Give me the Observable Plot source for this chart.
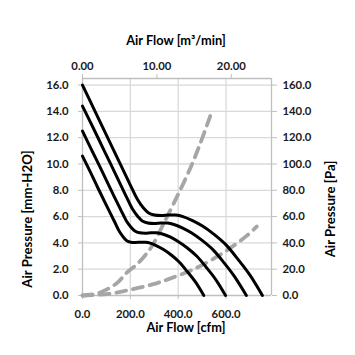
<!DOCTYPE html>
<html><head><meta charset="utf-8">
<script src="https://cdn.jsdelivr.net/npm/d3@7"></script>
<script src="https://cdn.jsdelivr.net/npm/@observablehq/plot@0.6"></script>
<style>body{margin:0;background:#fff}</style>
</head><body><div id="chart"></div>
<script>
// Fan curves (x: air flow cfm, y: pressure mm-H2O)
const c1x = [0,50,100,150,200,230,255,275,300,330,360,390,420,460,500,550,600,650,700,752];
const c1y = [16.0,14.1,12.2,10.3,8.4,7.3,6.65,6.3,6.12,6.08,6.12,6.12,6.0,5.7,5.3,4.65,3.85,2.75,1.55,0];
const c2x = [0,46,91,137,182,209,232,250,273,300,328,355,382,419,455,500,546,592,637,685];
const c2y = [14.4,12.7,11.0,9.27,7.56,6.57,5.99,5.67,5.51,5.47,5.51,5.51,5.4,5.13,4.77,4.19,3.47,2.48,1.4,0];
const c3x = [0,40,80,119,159,183,203,219,239,262,286,310,334,366,398,437,477,517,557,598];
const c3y = [12.5,11.0,9.52,8.03,6.55,5.69,5.19,4.91,4.77,4.74,4.77,4.77,4.68,4.45,4.13,3.63,3.0,2.15,1.21,0];
const c4x = [0,34,67,101,135,155,172,185,202,222,243,263,283,310,337,371,404,438,472,507];
const c4y = [10.6,9.34,8.08,6.82,5.57,4.84,4.41,4.17,4.05,4.03,4.05,4.05,3.98,3.78,3.51,3.08,2.55,1.82,1.03,0];
// System impedance curves (dashed)
const steepX = [0,60,104,150,185,226,257,292,340,396,451,493,535];
const steepY = [0,0.15,0.48,1.04,1.74,2.35,2.95,3.8,5.5,7.55,9.7,11.6,13.7];
const shallowX = [0,108,198,296,368,465,562,632,687,729];
const shallowY = [0,0.12,0.43,0.86,1.3,2.0,2.95,3.79,4.55,5.25];

const leftTicks = [0,2,4,6,8,10,12,14,16];
const bottomTicks = [0,200,400,600];
const topTicks = [0,10,20];
const xMax = 790, yMax = 16.5, topMax = 25.4;

const fanSeries = [[c1x,c1y,"A"],[c2x,c2y,"B"],[c3x,c3y,"C"],[c4x,c4y,"D"]];
const fanRows = fanSeries.flatMap(([xs,ys,k]) => xs.map((x,i) => ({x, y: ys[i], k})));
const sysRows = [[steepX,steepY,"S1"],[shallowX,shallowY,"S2"]].flatMap(([xs,ys,k]) => xs.map((x,i)=>({x,y:ys[i],k})));

const grid = "#d9d9d9", axc = "#bfbfbf", txt = "#1a1a1a";

const chart = Plot.plot({
  width: 355, height: 355,
  marginLeft: 82, marginRight: 84, marginTop: 78, marginBottom: 60,
  x: {domain: [0, xMax]},
  y: {domain: [0, yMax]},
  style: {fontFamily: "Lato", fontWeight: "bold", fontSize: "11.3px", color: txt, background: "#fff"},
  marks: [
    Plot.gridY(leftTicks.slice(1), {stroke: grid, strokeOpacity: 1, strokeWidth: 1.3}),
    Plot.gridX([200,400,600], {stroke: grid, strokeOpacity: 1, strokeWidth: 1.3}),
    Plot.ruleY([yMax], {stroke: axc, strokeWidth: 1.3}),
    Plot.ruleX([xMax], {stroke: axc, strokeWidth: 1.3}),
    Plot.ruleX([0], {stroke: axc, strokeWidth: 1.3}),
    Plot.ruleY([0], {stroke: axc, strokeWidth: 1.3}),
    Plot.axisY({anchor: "left", ticks: leftTicks, tickFormat: d => d.toFixed(1), tickSize: 4, tickPadding: 10, stroke: axc, fill: txt, label: null}),
    Plot.axisY({anchor: "right", ticks: leftTicks, tickFormat: d => (d*10).toFixed(1), tickSize: 5, tickPadding: 6, stroke: axc, fill: txt, label: null}),
    Plot.axisX({anchor: "bottom", ticks: bottomTicks, tickFormat: d => d.toFixed(1), tickSize: 4, tickPadding: 10, stroke: axc, fill: txt, label: null}),
    Plot.axisX({anchor: "top", ticks: topTicks.map(t => t * xMax / topMax), tickFormat: d => (d * topMax / xMax).toFixed(2), tickSize: 5, tickPadding: 4, stroke: axc, fill: txt, label: null}),
    Plot.line(sysRows, {x: "x", y: "y", z: "k", stroke: "#a6a6a6", strokeWidth: 3.8, strokeDasharray: "10,7", curve: "catmull-rom"}),
    Plot.line(fanRows, {x: "x", y: "y", z: "k", stroke: "#000", strokeWidth: 3, curve: "catmull-rom"}),
    Plot.text(["Air Flow [m³/min]"], {text: d => d, frameAnchor: "top", textAnchor: "middle", dy: -43, dx: -1, fontSize: 12.8, fill: "#000"}),
    Plot.text(["Air Flow [cfm]"], {text: d => d, frameAnchor: "bottom", textAnchor: "middle", dy: 36, dx: 9, fontSize: 12.8, fill: "#000"}),
    Plot.text(["Air Pressure [mm-H2O]"], {text: d => d, frameAnchor: "left", textAnchor: "middle", rotate: -90, dx: -55, dy: 32, fontSize: 13.2, fill: "#000"}),
    Plot.text(["Air Pressure [Pa]"], {text: d => d, frameAnchor: "right", textAnchor: "middle", rotate: -90, dx: 59, dy: 22, fontSize: 13.2, fill: "#000"})
  ]
});
document.getElementById("chart").appendChild(chart);
</script>
</body></html>
